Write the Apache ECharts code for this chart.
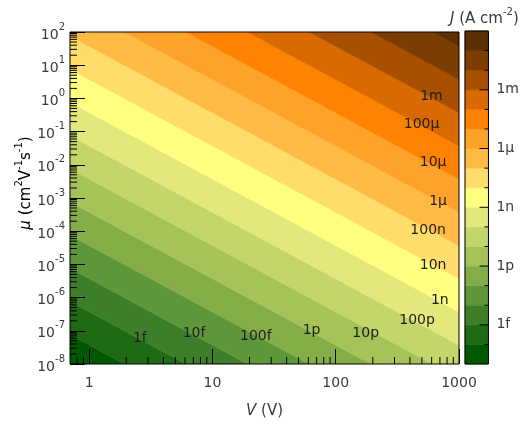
<!DOCTYPE html>
<html lang="en">
<head>
<meta charset="UTF-8">
<title>J(V, mu)</title>
<script src="https://cdn.jsdelivr.net/npm/echarts@6/dist/echarts.min.js"></script>
<style>
  html, body { margin: 0; padding: 0; background: #fff; }
  #main { width: 522px; height: 424px; }
</style>
</head>
<body>
<div id="main"></div>
<script>
// contour boundaries, one per decade of J (A cm-2), bottom to top
var levels = [1e-17, 1e-16, 1e-15, 1e-14, 1e-13, 1e-12, 1e-11, 1e-10, 1e-9,
              1e-8, 1e-7, 1e-6, 1e-5, 1e-4, 1e-3, 1e-2, 1e-1, 1];
// mu where each boundary line meets the left (V = 0.7) and right (V = 1000) edge
var vLeft = 0.7, vRight = 1000;
var muLeft = [7.6e-9, 7.6e-8, 7.6e-7, 7.6e-6, 7.6e-5, 7.6e-4, 7.6e-3, 0.076, 0.76,
              7.6, 76, 760, 7600, 7.6e4, 7.6e5, 7.6e6, 7.6e7, 7.6e8];
var muRight = [3.7e-15, 3.7e-14, 3.7e-13, 3.7e-12, 3.7e-11, 3.7e-10, 3.7e-9, 3.7e-8, 3.7e-7,
               3.7e-6, 3.7e-5, 3.7e-4, 3.7e-3, 0.037, 0.37, 3.7, 37, 370];
// band fill colours, bottom (1e-17..1e-16) to top (0.1..1)
var bandColors = ['#005900', '#1e6a15', '#3d7f28', '#5e963a', '#84ad48', '#a6c35a',
                  '#c3d56b', '#e2e87a', '#ffff80', '#ffdd6a', '#ffbb44', '#ffa22a',
                  '#ff8300', '#d96a00', '#a85000', '#7e3d00', '#5c2e00'];
// contour labels (text, V, mu)
var labelText = ['1f', '10f', '100f', '1p', '10p', '100p', '1n', '10n', '100n', '1\u03bc', '10\u03bc', '100\u03bc', '1m'];
var labelV    = [2.58, 7.1, 22.5, 63.7, 175, 457, 699, 617, 562, 677, 617, 497, 598];
var labelMu   = [5.9e-8, 8.4e-8, 6.8e-8, 1.0e-7, 8.4e-8, 2.05e-7, 8.5e-7, 9.2e-6, 1.08e-4, 8.2e-4, 0.0116, 0.164, 1.17];
// axis tick values
var xMajor = [1, 10, 100, 1000];
var yMajor = [1e-8, 1e-7, 1e-6, 1e-5, 1e-4, 1e-3, 1e-2, 1e-1, 1, 10, 100];
// colour bar tick labels
var barTicks = [1e-15, 1e-12, 1e-9, 1e-6, 1e-3];
var barLabels = {'-3': '1m', '-6': '1\u03bc', '-9': '1n', '-12': '1p', '-15': '1f'};

var FONT = '"DejaVu Sans", Verdana, sans-serif';
var TXT = '#3a3a3a';

// minor ticks 2..9 x 10^k
var xMinor = [0.8, 0.9];
var yMinor = [];
for (var k = 0; k < 3; k++) for (var m = 2; m < 10; m++) xMinor.push(m * Math.pow(10, k));
for (k = -8; k < 2; k++) for (m = 2; m < 10; m++) yMinor.push(m * Math.pow(10, k));

function expOf(v) { return Math.round(Math.log(v) / Math.LN10); }
function isPow10(v) { var e = Math.log(v) / Math.LN10; return Math.abs(e - Math.round(e)) < 1e-6; }

// tick labels 10^n
var supRich = {
  b: { fontSize: 14, lineHeight: 20, verticalAlign: 'bottom', fontFamily: FONT, color: TXT, fontWeight: 'normal' },
  s: { fontSize: 10, lineHeight: 10, verticalAlign: 'top', fontFamily: FONT, color: TXT, fontWeight: 'normal' }
};
// axis names / colour bar title
var nameRich = {
  b: { fontSize: 15, lineHeight: 20, verticalAlign: 'bottom', fontFamily: FONT, color: TXT, fontWeight: 'normal' },
  i: { fontSize: 15, lineHeight: 20, verticalAlign: 'bottom', fontFamily: FONT, color: TXT, fontWeight: 'normal', fontStyle: 'italic' },
  s: { fontSize: 10, lineHeight: 10, verticalAlign: 'top', fontFamily: FONT, color: TXT, fontWeight: 'normal' }
};

var myChart = echarts.init(document.getElementById('main'));

var option = {
  animation: false,
  title: {
    text: '{i|J}{b| (A cm}{s|-2}{b|)}',
    left: 445, top: 2,
    textStyle: { fontWeight: 'normal', rich: nameRich }
  },
  graphic: [{
    type: 'text', x: 24, y: 183, rotation: Math.PI / 2,
    style: { text: '{i|\u03bc}{b| (cm}{s|2}{b|V}{s|-1}{b|s}{s|-1}{b|)}', rich: nameRich,
      align: 'center', verticalAlign: 'middle' }
  }],
  grid: [
    { left: 70, top: 32, width: 389, height: 333, show: true, z: 4,
      borderColor: '#000', borderWidth: 1, backgroundColor: 'transparent' },
    { left: 465, top: 31, width: 26, height: 333, show: true, z: 4,
      borderColor: '#000', borderWidth: 1, backgroundColor: 'transparent' }
  ],
  xAxis: [
    { gridIndex: 0, type: 'log', min: vLeft, max: vRight, splitNumber: 3, z: 6,
      name: '{i|V}{b| (V)}', nameLocation: 'middle', nameGap: 35,
      nameTextStyle: { rich: nameRich },
      axisLine: { show: false },
      axisTick: { show: true, inside: true, length: 15, customValues: xMajor, lineStyle: { color: '#000' } },
      splitLine: { show: false },
      axisLabel: { margin: 12, fontSize: 14, color: TXT, fontFamily: FONT, customValues: xMajor,
        formatter: function (v) { return isPow10(v) ? String(Math.round(v)) : ''; } } },
    { gridIndex: 1, type: 'value', min: 0, max: 1, show: false }
  ],
  yAxis: [
    { gridIndex: 0, type: 'log', min: 1e-8, max: 100, interval: 1, splitNumber: 10, z: 6,
      axisLine: { show: false },
      axisTick: { show: true, inside: true, length: 15, customValues: yMajor, lineStyle: { color: '#000' } },
      splitLine: { show: false },
      axisLabel: { margin: 5, rich: supRich, customValues: yMajor, hideOverlap: false,
        formatter: function (v) { return isPow10(v) ? '{b|10}{s|' + expOf(v) + '}' : ''; } } },
    { gridIndex: 1, type: 'log', min: 1e-17, max: 1, interval: 1, splitNumber: 17, position: 'right', z: 6,
      axisLine: { show: false }, axisTick: { show: false }, splitLine: { show: false },
      axisLabel: { margin: 8, fontSize: 14, color: TXT, fontFamily: FONT, customValues: barTicks, hideOverlap: false,
        formatter: function (v) { var l = barLabels[String(expOf(v))]; return l || ''; } } }
  ],
  series: [
    { // filled contour bands
      type: 'custom', xAxisIndex: 0, yAxisIndex: 0, clip: true, z: 2,
      data: bandColors.map(function (c, i) { return [vLeft, muLeft[i]]; }),
      renderItem: function (params, api) {
        var i = params.dataIndex;
        var pts = [
          api.coord([vLeft, muLeft[i]]),
          api.coord([vRight, muRight[i]]),
          api.coord([vRight, muRight[i + 1]]),
          api.coord([vLeft, muLeft[i + 1]])
        ];
        return { type: 'polygon', shape: { points: pts },
          style: { fill: bandColors[i], stroke: bandColors[i], lineWidth: 0.6 } };
      }
    },
    { // contour labels
      type: 'custom', xAxisIndex: 0, yAxisIndex: 0, z: 5,
      data: labelV.map(function (v, i) { return [v, labelMu[i]]; }),
      renderItem: function (params, api) {
        var p = api.coord([labelV[params.dataIndex], labelMu[params.dataIndex]]);
        return { type: 'text', x: p[0], y: p[1],
          style: { text: labelText[params.dataIndex], fill: '#1e1e1e', fontSize: 14,
            fontFamily: FONT, align: 'center', verticalAlign: 'middle' } };
      }
    },
    { // minor ticks, x
      type: 'custom', xAxisIndex: 0, yAxisIndex: 0, z: 6, silent: true,
      data: xMinor.map(function (v) { return [v, 1e-8]; }),
      renderItem: function (params, api) {
        var p = api.coord([xMinor[params.dataIndex], 1e-8]);
        return { type: 'line', shape: { x1: p[0], y1: p[1], x2: p[0], y2: p[1] - 7 },
          style: { stroke: '#000', lineWidth: 1 } };
      }
    },
    { // minor ticks, y
      type: 'custom', xAxisIndex: 0, yAxisIndex: 0, z: 6, silent: true,
      data: yMinor.map(function (v) { return [vLeft, v]; }),
      renderItem: function (params, api) {
        var p = api.coord([vLeft, yMinor[params.dataIndex]]);
        return { type: 'line', shape: { x1: p[0], y1: p[1], x2: p[0] + 7, y2: p[1] },
          style: { stroke: '#000', lineWidth: 1 } };
      }
    },
    { // colour bar
      type: 'custom', xAxisIndex: 1, yAxisIndex: 1, z: 2,
      data: bandColors.map(function (c, i) { return [0, levels[i]]; }),
      renderItem: function (params, api) {
        var i = params.dataIndex;
        var p0 = api.coord([0, levels[i + 1]]);
        var p1 = api.coord([1, levels[i]]);
        return { type: 'rect', shape: { x: p0[0], y: p0[1], width: p1[0] - p0[0], height: p1[1] - p0[1] },
          style: { fill: bandColors[i], stroke: bandColors[i], lineWidth: 0.6 } };
      }
    },
    { // colour bar ticks
      type: 'custom', xAxisIndex: 1, yAxisIndex: 1, z: 6, silent: true,
      data: levels.slice(1, -1).map(function (v) { return [1, v]; }),
      renderItem: function (params, api) {
        var v = levels[params.dataIndex + 1];
        var len = expOf(v) % 3 === 0 ? 9 : 4;
        var p = api.coord([1, v]);
        return { type: 'line', shape: { x1: p[0] - len, y1: p[1], x2: p[0], y2: p[1] },
          style: { stroke: '#000', lineWidth: 1 } };
      }
    }
  ]
};

myChart.setOption(option);
</script>
</body>
</html>
